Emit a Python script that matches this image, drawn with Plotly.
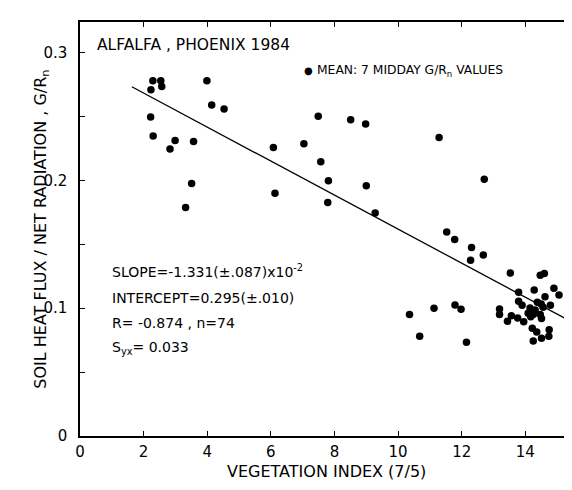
import plotly.graph_objects as go

# Vegetation index (7/5) and midday mean G/Rn values (74 points)
veg_index = [
    2.29, 2.54, 2.23, 2.57, 3.99, 4.14, 4.53, 2.22, 2.30, 2.83, 2.99, 3.57, 3.51, 3.32,
    6.08, 6.13, 7.04,
    7.49, 8.51, 8.98, 7.57, 11.29, 7.81, 9.00, 7.79, 9.28, 12.71,
    11.53, 11.78, 12.31, 12.28, 12.68, 13.53, 14.47, 14.60, 15.35, 14.90, 15.06, 15.34,
    14.28, 13.79, 14.62, 13.79, 13.90, 14.38, 14.50, 14.56, 14.79, 14.15, 14.19, 14.09,
    14.25, 14.17, 14.47, 14.51, 13.19, 13.19, 13.56, 13.76, 13.95, 13.44, 14.22, 14.36,
    14.75, 14.74, 14.51, 14.25, 10.36, 11.13, 11.79, 11.98, 10.68, 12.15, 14.31,
]
g_rn = [
    0.278, 0.278, 0.271, 0.2735, 0.278, 0.259, 0.256, 0.2496, 0.2347, 0.2247, 0.2312, 0.2305, 0.1976, 0.1788,
    0.2258, 0.190, 0.2287,
    0.2503, 0.2475, 0.2441, 0.2146, 0.2336, 0.1997, 0.1958, 0.1827, 0.1746, 0.201,
    0.1597, 0.1537, 0.1475, 0.1376, 0.1417, 0.1276, 0.1258, 0.1271, 0.1276, 0.1156, 0.1104, 0.111,
    0.1143, 0.1125, 0.1089, 0.1055, 0.1023, 0.1047, 0.1034, 0.1008, 0.1023, 0.1002, 0.0976, 0.0961,
    0.095, 0.0934, 0.095, 0.0919, 0.0994, 0.095, 0.0942, 0.0924, 0.0895, 0.0898, 0.0843, 0.0814,
    0.0832, 0.0781, 0.0765, 0.0744, 0.095, 0.100, 0.1026, 0.0992, 0.0781, 0.0734, 0.0987,
]

# Regression line
slope = -0.01331
intercept = 0.295
fit_x = [1.63, 15.32]
fit_y = [intercept + slope * v for v in fit_x]

x_ticks = [0, 2, 4, 6, 8, 10, 12, 14]
x_ticklabels = ["0", "2", "4", "6", "8", "10", "12", "14"]
y_ticks = [0, 0.05, 0.1, 0.15, 0.2, 0.25, 0.3]
y_ticklabels = ["0", "", "0.1", "", "0.2", "", "0.3"]

FONT = "DejaVu Sans"

fig = go.Figure()
fig.add_trace(go.Scatter(x=fit_x, y=fit_y, mode="lines",
                         line=dict(color="black", width=1.3), showlegend=False))
fig.add_trace(go.Scatter(x=veg_index, y=g_rn, mode="markers",
                         marker=dict(color="black", size=7.5), showlegend=False))

axis_common = dict(showline=True, linecolor="black", linewidth=1.5, mirror="ticks",
                   ticks="inside", ticklen=5, tickcolor="black", tickwidth=1,
                   showgrid=False, zeroline=False,
                   tickfont=dict(family=FONT, size=15, color="black"))

fig.update_layout(
    width=572, height=490,
    margin=dict(l=72, r=5, t=14, b=62),
    paper_bgcolor="white", plot_bgcolor="white",
    font=dict(family=FONT, color="black"),
    xaxis=dict(range=[0, 15.5], tickvals=x_ticks, ticktext=x_ticklabels,
               ticklabelstandoff=1, **axis_common),
    yaxis=dict(range=[0, 0.324], tickvals=y_ticks, ticktext=y_ticklabels,
               ticklabelstandoff=8, **axis_common),
)

fig.add_annotation(x=0.47, y=0.306, xref="x", yref="y", text="ALFALFA , PHOENIX 1984",
                   showarrow=False, xanchor="left", yanchor="middle",
                   font=dict(family=FONT, size=15.5, color="black"))
fig.add_annotation(x=7.18, y=0.2858, xref="x", yref="y", text="●",
                   showarrow=False, xanchor="center", yanchor="middle",
                   font=dict(family=FONT, size=10, color="black"))
fig.add_annotation(x=7.38, y=0.2858, xref="x", yref="y",
                   text="MEAN: 7 MIDDAY G/R<sub>n</sub> VALUES",
                   showarrow=False, xanchor="left", yanchor="middle",
                   font=dict(family=FONT, size=12.3, color="black"))
stats = [
    "SLOPE=-1.331(±.087)x10<sup>-2</sup>",
    "INTERCEPT=0.295(±.010)",
    "R= -0.874 , n=74",
    "S<sub>yx</sub>= 0.033",
]
stats_y = [0.129, 0.108, 0.0885, 0.069]
for t, yy in zip(stats, stats_y):
    fig.add_annotation(x=0.93, y=yy, xref="x", yref="y", text=t, showarrow=False,
                       xanchor="left", yanchor="middle",
                       font=dict(family=FONT, size=14, color="black"))

# axis titles (placed in pixel terms, converted to paper coordinates)
pw, ph = 572 - 72 - 5, 490 - 14 - 62
def px2paper(px, py):
    return (px - 72) / pw, (428 - py) / ph

tx, ty = px2paper(320, 475)
fig.add_annotation(x=tx, y=ty, xref="paper", yref="paper", text="VEGETATION INDEX (7/5)",
                   showarrow=False, font=dict(family=FONT, size=16, color="black"))
tx, ty = px2paper(20, 221)
fig.add_annotation(x=tx, y=ty, xref="paper", yref="paper",
                   text="SOIL HEAT FLUX / NET RADIATION , G/R<sub>n</sub>",
                   showarrow=False, textangle=-90, font=dict(family=FONT, size=16, color="black"))

fig.write_html("out.html")
